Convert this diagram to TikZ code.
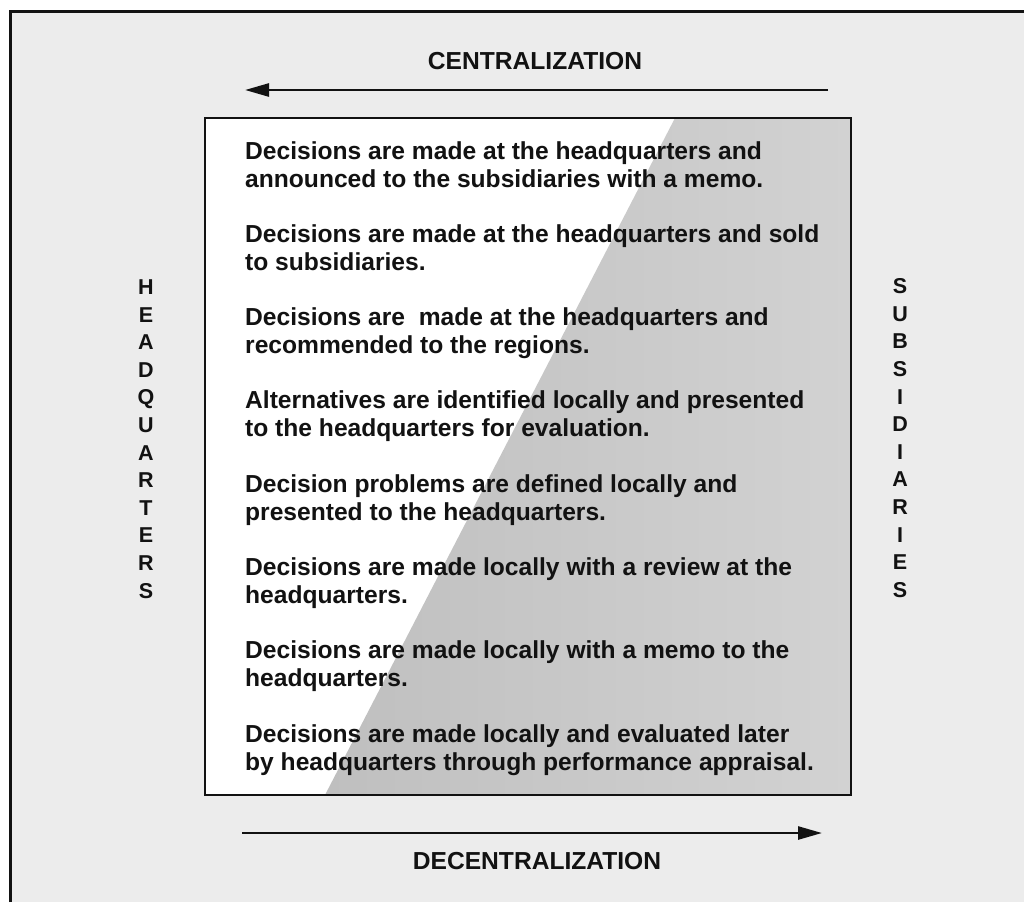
\documentclass[tikz,border=0pt]{standalone}
\usepackage{fontspec}
\setmainfont{Liberation Sans}
\usetikzlibrary{arrows.meta}
\definecolor{paper}{HTML}{ECECEC}
\definecolor{shade}{HTML}{BFBFBF}
\definecolor{shadelight}{HTML}{D2D2D2}
\definecolor{ink}{HTML}{121212}
\tikzset{
  frameline/.style={draw=ink, line width=3pt},
  boxline/.style={draw=ink, line width=2.6pt},
  axisarrow/.style={draw=ink, line width=2.6pt, -{Triangle[length=24pt,width=13pt]}},
  bodyline/.style={anchor=base west, inner sep=0pt, text=ink, font=\bfseries\fontsize{24.6}{28}\selectfont},
  title/.style={anchor=center, inner sep=0pt, text=ink, font=\bfseries\fontsize{24.6}{28}\selectfont},
  vword/.style={anchor=center, inner sep=0pt, text=ink, align=center, font=\bfseries\fontsize{21.5}{27.6}\selectfont},
}
\begin{document}
\begin{tikzpicture}[x=1pt, y=-1pt]
\useasboundingbox (0,0) rectangle (1024,902);
% page background
\fill[white] (0,0) rectangle (1024,902);
\fill[paper] (10,11) rectangle (1024,902);
\draw[frameline] (10,902) -- (10,11) -- (1024,11);
% inner box
\fill[white] (205,118) rectangle (851,795);
\shade[left color=shade, right color=shadelight] (675,118) -- (851,118) -- (851,795) -- (325,795) -- cycle;
\draw[boxline] (205,118) rectangle (851,795);
% titles and arrows
\node[title] (cen) at (535,61) {CENTRALIZATION};
\node[title] (dec) at (537,861) {DECENTRALIZATION};
\coordinate (ctail) at (828,90);
\coordinate (chead) at (245,90);
\draw[axisarrow] (ctail) -- (chead);
\coordinate (dtail) at (242,833);
\coordinate (dhead) at (822,833);
\draw[axisarrow] (dtail) -- (dhead);
% side words
\node[vword] (hq) at (146,439) {H\\E\\A\\D\\Q\\U\\A\\R\\T\\E\\R\\S};
\node[vword] (sub) at (900,438) {S\\U\\B\\S\\I\\D\\I\\A\\R\\I\\E\\S};
% body text
\node[bodyline] (a1) at (245,159) {Decisions are made at the headquarters and};
\node[bodyline] (a2) at (245,187) {announced to the subsidiaries with a memo.};
\node[bodyline] (b1) at (245,242.3) {Decisions are made at the headquarters and sold};
\node[bodyline] (b2) at (245,270.3) {to subsidiaries.};
\node[bodyline] (c1) at (245,325.6) {Decisions are\ \ made at the headquarters and};
\node[bodyline] (c2) at (245,353.6) {recommended to the regions.};
\node[bodyline] (d1) at (245,408.9) {Alternatives are identified locally and presented};
\node[bodyline] (d2) at (245,436.9) {to the headquarters for evaluation.};
\node[bodyline] (e1) at (245,492.2) {Decision problems are defined locally and};
\node[bodyline] (e2) at (245,520.2) {presented to the headquarters.};
\node[bodyline] (f1) at (245,575.5) {Decisions are made locally with a review at the};
\node[bodyline] (f2) at (245,603.5) {headquarters.};
\node[bodyline] (g1) at (245,658.8) {Decisions are made locally with a memo to the};
\node[bodyline] (g2) at (245,686.8) {headquarters.};
\node[bodyline] (h1) at (245,742.1) {Decisions are made locally and evaluated later};
\node[bodyline] (h2) at (245,770.1) {by headquarters through performance appraisal.};
\end{tikzpicture}
\end{document}
